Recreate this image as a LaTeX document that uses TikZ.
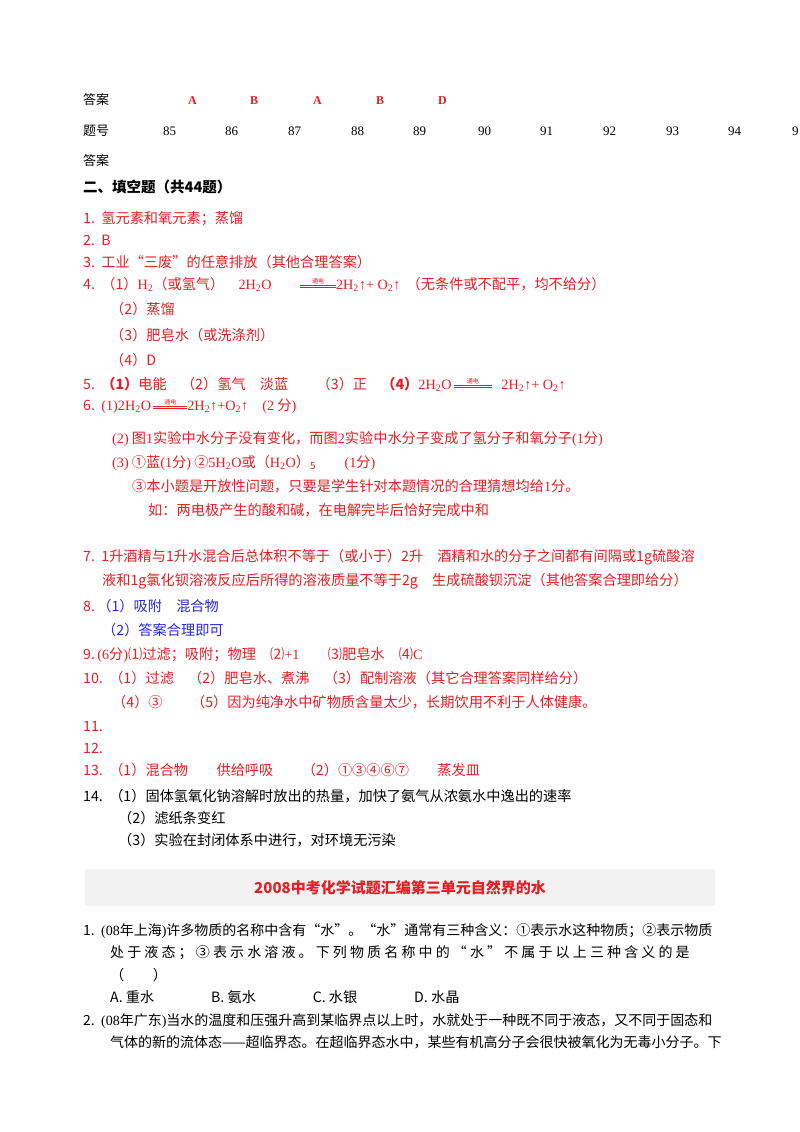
\documentclass[tikz,border=0pt]{standalone}
\usepackage{fontspec}
\setmainfont{Noto Sans CJK SC}
\newfontfamily\lat{Liberation Serif}
\definecolor{ansred}{RGB}{228,30,36}
\definecolor{ansblue}{RGB}{40,40,220}
\newcommand\tdian[1]{\raisebox{2pt}{\vbox{\hbox to #1{\hss\fontsize{6}{6}\selectfont 通电\hss}\kern1pt\hrule height 0.5pt\kern1.2pt\hrule height 0.5pt}}}
\begin{document}
\begin{tikzpicture}[x=1pt,y=-1pt,
  t/.style={anchor=base west,inner sep=0pt,font=\fontsize{14.2}{16}\selectfont},
  r/.style={t,text=ansred},
  b/.style={t,text=ansblue},
  k/.style={t,text=black}]
\useasboundingbox (0,0) rectangle (800,1132);
\fill[white] (0,0) rectangle (800,1132);
% table rows
\node[k,font=\fontsize{13}{15}\selectfont] (a1) at (83,104) {答案};
\foreach \x/\l [count=\i] in {188/A,250/B,313/A,376/B,438/D}
  \node[r,font=\fontsize{12}{14}\selectfont\lat\bfseries] (ans\i) at (\x,104) {\l};
\node[k,font=\fontsize{13}{15}\selectfont] (h1) at (83,135) {题号};
\foreach \x/\n [count=\i] in {163/85,225/86,288/87,351/88,413/89,478/90,540/91,603/92,666/93,728/94}
  \node[k,font=\fontsize{13}{15}\selectfont\lat] (num\i) at (\x,135) {\n};
\node[k,font=\fontsize{13}{15}\selectfont\lat] (num11) at (792,135) {9};
\node[k,font=\fontsize{13}{15}\selectfont] (a2) at (83,165) {答案};
\node[k,font=\fontsize{14.5}{16}\selectfont\bfseries] (sec) at (83,192) {二、填空题（共44题）};
% answers
\node[r] (q1) at (83,223) {1.\ \ 氢元素和氧元素；蒸馏};
\node[r] (q2) at (83,245) {2.\ \ B};
\node[r] (q3) at (83,267) {3.\ \ 工业“三废”的任意排放（其他合理答案）};
\node[r] (q4) at (83,289) {4.\ \ （1）{\lat H\textsubscript{2}}（或氢气）\quad{\lat 2H\textsubscript{2}O}\qquad\tdian{36pt}{\lat 2H\textsubscript{2}↑+ O\textsubscript{2}↑}\ \ （无条件或不配平，均不给分）};
\node[r] (q42) at (110,314) {（2）蒸馏};
\node[r] (q43) at (110,340) {（3）肥皂水（或洗涤剂）};
\node[r] (q44) at (110,365) {（4）D};
\node[r] (q5) at (83,389) {5.\ \ \textbf{（1）}电能\quad（2）氢气\quad 淡蓝\qquad（3）正\quad\textbf{（4）}{\lat 2H\textsubscript{2}O}\,\tdian{38pt}\ \ \ {\lat 2H\textsubscript{2}↑+ O\textsubscript{2}↑}};
\node[r] (q6) at (83,410) {6.\ \ {\lat (1)2H\textsubscript{2}O}\,\tdian{34pt}{\lat 2H\textsubscript{2}↑+O\textsubscript{2}↑\quad(2} 分{\lat )}};
\node[r] (q62) at (112,443) {{\lat (2)} 图{\lat 1}实验中水分子没有变化，而图{\lat 2}实验中水分子变成了氢分子和氧分子{\lat (1}分{\lat )}};
\node[r] (q63) at (112,467) {{\lat (3)} ①蓝{\lat (1}分{\lat )} ②{\lat 5H\textsubscript{2}O}或（{\lat H\textsubscript{2}O}）\textsubscript{5}\qquad{\lat (1}分{\lat )}};
\node[r] (q64) at (132,491) {③本小题是开放性问题，只要是学生针对本题情况的合理猜想均给{\lat 1}分。};
\node[r] (q65) at (148,515) {如：两电极产生的酸和碱，在电解完毕后恰好完成中和};
\node[r] (q7) at (83,561) {7.\ \ 1升酒精与1升水混合后总体积不等于（或小于）2升\quad 酒精和水的分子之间都有间隔或1g硫酸溶};
\node[r] (q72) at (102,585) {液和1g氯化钡溶液反应后所得的溶液质量不等于2g\quad 生成硫酸钡沉淀（其他答案合理即给分）};
\node[r] (q8) at (83,611) {8.\,\textcolor{ansblue}{（1）吸附\quad 混合物}};
\node[b] (q82) at (102,635) {（2）答案合理即可};
\node[r] (q9) at (83,659) {9.\,{\lat (6}分{\lat )}⑴过滤；吸附；物理\quad ⑵{\lat +1}\qquad ⑶肥皂水\quad ⑷{\lat C}};
\node[r] (q10) at (83,683) {10.\ \ （1）过滤\quad （2）肥皂水、煮沸\quad （3）配制溶液（其它合理答案同样给分）};
\node[r] (q102) at (112,707) {（4）③\qquad（5）因为纯净水中矿物质含量太少，长期饮用不利于人体健康。};
\node[r] (q11) at (83,731) {11.};
\node[r] (q12) at (83,753) {12.};
\node[r] (q13) at (83,775) {13.\ \ （1）混合物\qquad 供给呼吸\qquad（2）①③④⑥⑦\qquad 蒸发皿};
\node[k] (q14) at (83,801) {14.\ \ （1）固体氢氧化钠溶解时放出的热量，加快了氨气从浓氨水中逸出的速率};
\node[k] (q142) at (118,823) {（2）滤纸条变红};
\node[k] (q143) at (118,845) {（3）实验在封闭体系中进行，对环境无污染};
% title band
\fill[gray!10] (85,869) rectangle (715,906);
\node[r,anchor=base,font=\fontsize{15}{16}\selectfont\bfseries] (title) at (400,893) {2008中考化学试题汇编第三单元自然界的水};
% questions
\node[k,font=\fontsize{14}{16}\selectfont] (p1) at (83,935) {1.\ \ {\lat (08}年上海{\lat )}许多物质的名称中含有“水”。“水”通常有三种含义：①表示水这种物质；②表示物质};
\node[k,font=\fontsize{14}{16}\selectfont] (p12) at (110,957) {处\ 于\ 液\ 态\ ；\ ③\ 表\ 示\ 水\ 溶\ 液\ 。\ 下\ 列\ 物\ 质\ 名\ 称\ 中\ 的\ “\ 水\ ”\ 不\ 属\ 于\ 以\ 上\ 三\ 种\ 含\ 义\ 的\ 是};
\node[k] (p13) at (110,980) {（\qquad）};
\node[k] (p14) at (110,1002) {A.\ 重水\qquad\qquad B.\ 氨水\qquad\qquad C.\ 水银\qquad\qquad D.\ 水晶};
\node[k,font=\fontsize{14}{16}\selectfont] (p2) at (83,1025) {2.\ \ {\lat (08}年广东{\lat )}当水的温度和压强升高到某临界点以上时，水就处于一种既不同于液态，又不同于固态和};
\node[k,font=\fontsize{14}{16}\selectfont] (p22) at (110,1047) {气体的新的流体态——超临界态。在超临界态水中，某些有机高分子会很快被氧化为无毒小分子。下};
\end{tikzpicture}
\end{document}
